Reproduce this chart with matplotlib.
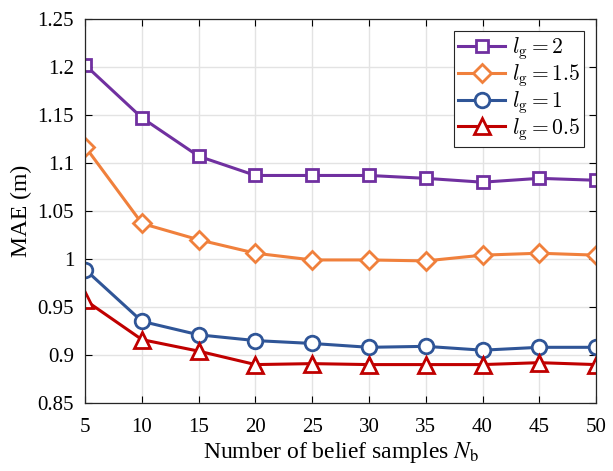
import matplotlib
matplotlib.use("Agg")
import matplotlib.pyplot as plt
from matplotlib.ticker import FuncFormatter

plt.rcParams['font.family'] = ['Liberation Serif', 'DejaVu Serif']
plt.rcParams['mathtext.fontset'] = 'cm'

# number of belief samples
n_b = [5, 10, 15, 20, 25, 30, 35, 40, 45, 50]

# MAE (m) per l_g
mae_lg2 = [1.202, 1.147, 1.107, 1.087, 1.087, 1.087, 1.084, 1.080, 1.084, 1.082]
mae_lg15 = [1.117, 1.037, 1.020, 1.006, 0.999, 0.999, 0.998, 1.004, 1.006, 1.004]
mae_lg1 = [0.989, 0.935, 0.921, 0.915, 0.912, 0.908, 0.909, 0.905, 0.908, 0.908]
mae_lg05 = [0.957, 0.916, 0.904, 0.890, 0.891, 0.890, 0.890, 0.890, 0.892, 0.890]

labels = [r'$l_{\rm g} = 2$', r'$l_{\rm g} = 1.5$', r'$l_{\rm g} = 1$', r'$l_{\rm g} = 0.5$']

fig = plt.figure(figsize=(6.13, 4.71), dpi=100)
ax = fig.add_axes([0.139, 0.1444, 0.8333, 0.8153])

styles = [
    (mae_lg2, '#7030A0', 's', 9),
    (mae_lg15, '#F0803C', 'D', 9),
    (mae_lg1, '#2F5597', 'o', 10.5),
    (mae_lg05, '#C00000', '^', 11),
]
for (vals, col, mk, ms), lab in zip(styles, labels):
    ax.plot(n_b, vals, color=col, linewidth=2.2, marker=mk, markersize=ms,
            markerfacecolor='white', markeredgecolor=col, markeredgewidth=2,
            label=lab)

ax.set_xlim(5, 50)
ax.set_ylim(0.85, 1.25)
ax.set_xticks(n_b)
ax.set_yticks([0.85, 0.9, 0.95, 1, 1.05, 1.1, 1.15, 1.2, 1.25])
ax.yaxis.set_major_formatter(FuncFormatter(lambda v, p: ('%.2f' % v).rstrip('0').rstrip('.')))
ax.tick_params(direction='in', top=True, right=True, labelsize=15, length=5,
               width=0.8)
ax.tick_params(axis='x', pad=11)
ax.tick_params(axis='y', pad=8)
ax.grid(True, color='#e3e3e3', linewidth=1)
ax.set_axisbelow(True)
for s in ax.spines.values():
    s.set_linewidth(0.9)
    s.set_color('#262626')

ax.set_xlabel(r'Number of belief samples $N_{\rm b}$', fontsize=17, labelpad=2,
              math_fontfamily='stix')
ax.set_ylabel('MAE (m)', fontsize=17, labelpad=4)

leg = ax.legend(loc='upper right', fontsize=15.5, fancybox=False, framealpha=1,
                edgecolor='#262626', handlelength=2.2, handletextpad=0.3,
                borderpad=0.2, labelspacing=0.0, borderaxespad=0.55)
leg.get_frame().set_linewidth(0.8)

fig.savefig('out.png', dpi=100)
